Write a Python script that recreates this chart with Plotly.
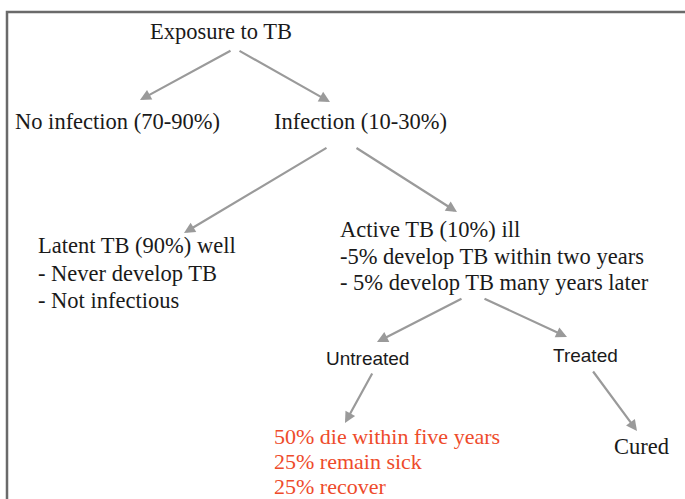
import plotly.graph_objects as go

# Node texts and their positions (pixel-like coordinate system, y downward)
node_text = [
    "Exposure to TB",
    "No infection (70-90%)",
    "Infection (10-30%)",
    "Latent TB (90%) well",
    "- Never develop TB",
    "- Not infectious",
    "Active TB (10%) ill",
    "-5% develop TB within two years",
    "- 5% develop TB many years later",
    "Cured",
]
node_x = [148, 13, 272, 36, 36, 36, 338, 338, 338, 612]
node_y = [31, 121, 121, 245, 273, 300, 229, 256, 282, 446]

sans_text = ["Untreated", "Treated"]
sans_x = [324, 551]
sans_y = [358, 355]

red_text = ["50% die within five years", "25% remain sick", "25% recover"]
red_x = [272, 272, 272]
red_y = [436, 461, 486]

# Arrows: start (x0, y0) -> end (x1, y1)
arrow_x0 = [232, 238, 328, 355, 463, 483, 373, 592]
arrow_y0 = [50, 50, 147, 147, 298, 298, 372, 370]
arrow_x1 = [140, 330, 184, 457, 377, 567, 345, 637]
arrow_y1 = [100, 102, 233, 212, 342, 337, 423, 431]

W, H = 685, 499
SERIF = "Liberation Serif, Times New Roman, serif"
SANS = "Liberation Sans, Arial, sans-serif"

fig = go.Figure()
fig.add_trace(go.Scatter(x=[0, W], y=[0, H], mode="markers",
                         marker=dict(opacity=0), hoverinfo="skip", showlegend=False))

ann = []
for t, x, y in zip(node_text, node_x, node_y):
    ann.append(dict(x=x, y=y, xref="x", yref="y", text=t, showarrow=False,
                    xanchor="left", yanchor="middle",
                    font=dict(family=SERIF, size=22.5, color="#1a1a1a")))
for t, x, y in zip(sans_text, sans_x, sans_y):
    ann.append(dict(x=x, y=y, xref="x", yref="y", text=t, showarrow=False,
                    xanchor="left", yanchor="middle",
                    font=dict(family=SANS, size=19, color="#1a1a1a")))
for t, x, y in zip(red_text, red_x, red_y):
    ann.append(dict(x=x, y=y, xref="x", yref="y", text=t, showarrow=False,
                    xanchor="left", yanchor="middle",
                    font=dict(family=SERIF, size=22, color="#ee4b2b")))
for x0, y0, x1, y1 in zip(arrow_x0, arrow_y0, arrow_x1, arrow_y1):
    ann.append(dict(x=x1, y=y1, ax=x0, ay=y0, xref="x", yref="y", axref="x", ayref="y",
                    text="", showarrow=True, arrowhead=2, arrowsize=1,
                    arrowwidth=2.2, arrowcolor="#9a9a9a"))

fig.update_layout(
    width=W, height=H,
    margin=dict(l=0, r=0, t=0, b=0),
    paper_bgcolor="white", plot_bgcolor="white",
    xaxis=dict(range=[0, W], visible=False, fixedrange=True),
    yaxis=dict(range=[H, 0], visible=False, fixedrange=True),
    annotations=ann,
    shapes=[dict(type="rect", xref="x", yref="y", x0=7, y0=12, x1=W + 20, y1=H + 20,
                 line=dict(color="#6a6a6a", width=2.5))],
)
fig.write_html("out.html", config={"displayModeBar": False},
               post_script="document.body.style.margin='0';")
